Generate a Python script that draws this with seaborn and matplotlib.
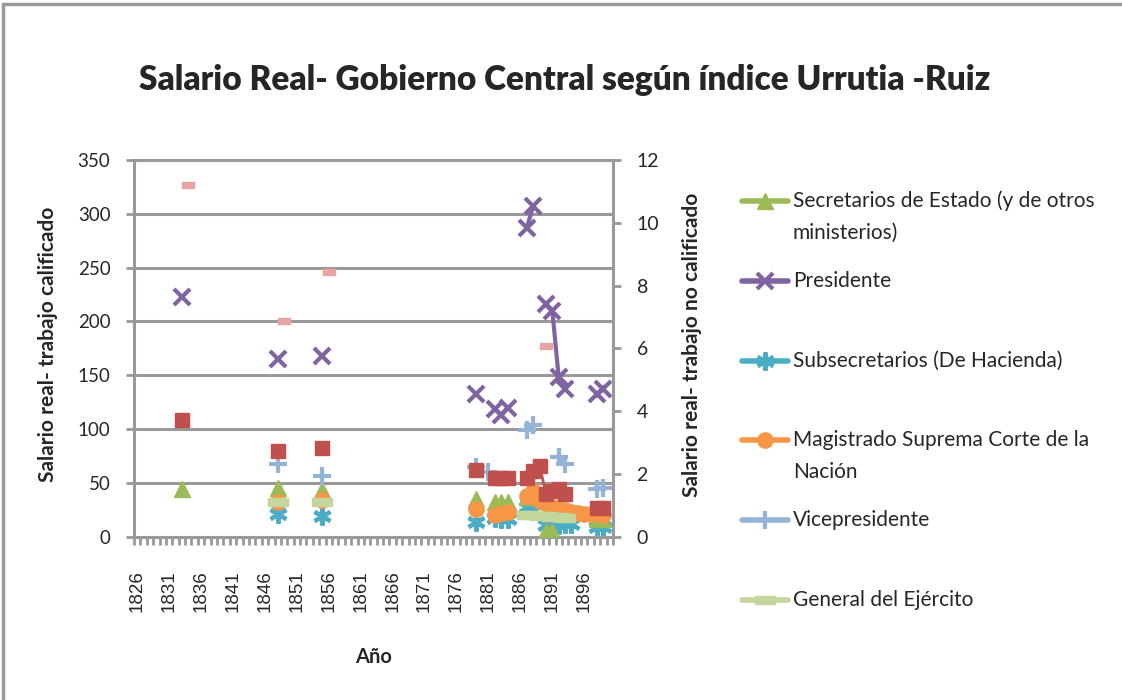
import numpy as np
import pandas as pd
import seaborn as sns
import matplotlib.pyplot as plt
from matplotlib.lines import Line2D
from matplotlib.patches import Rectangle
from matplotlib.path import Path
from matplotlib.transforms import ScaledTranslation

# category axis: one slot per year
years = list(range(1826, 1901))
label_years = years[::5]

secretarios_years = [1833, 1848, 1855, 1879, 1882, 1883, 1884, 1887, 1890, 1891, 1898, 1899]
secretarios_vals = [44, 45, 43, 35, 32, 32, 32, 37, 5, 5, 16, 16]

presidente_years = [1833, 1848, 1855, 1879, 1882, 1883, 1884, 1887, 1888, 1890, 1891, 1892, 1893, 1898, 1899]
presidente_vals = [223, 165, 168, 133, 119, 113, 120, 287, 307, 216, 210, 148, 137, 133, 137]

subsec_years = [1848, 1855, 1879, 1882, 1883, 1884, 1887, 1888, 1890, 1891, 1892, 1893, 1894, 1898, 1899]
subsec_vals = [21, 19, 14, 17, 16, 16, 28, 25, 11, 11, 11, 12, 12, 9, 9]

magistrado_years = [1848, 1855, 1879, 1882, 1883, 1884, 1887, 1888, 1889, 1890, 1891, 1892,
                    1893, 1894, 1895, 1896, 1897, 1898, 1899]
magistrado_vals = [32, 34, 26, 20, 22, 23, 38, 42, 33, 30, 28, 27, 25, 23, 22, 21, 21, 22, 20]

vice_years = [1848, 1855, 1879, 1881, 1887, 1888, 1892, 1893, 1898, 1899]
vice_vals = [68, 56, 65, 60, 99, 104, 74, 68, 44, 45]

general_years = [1848, 1855, 1887, 1888, 1889, 1890, 1891, 1892, 1893]
general_vals = [32, 32, 20, 20, 19, 19, 18, 18, 17]

# series drawn without legend entry
red_years = [1833, 1848, 1855, 1879, 1882, 1883, 1884, 1887, 1888, 1889, 1890, 1891, 1892, 1893, 1898, 1899]
red_vals = [108, 80, 82, 62, 55, 55, 55, 55, 61, 66, 40, 42, 44, 40, 27, 27]

pink_years = [1834, 1849, 1856, 1890]
pink_vals = [327, 200, 246, 177]

title = 'Salario Real- Gobierno Central según índice Urrutia -Ruiz'
left_label = 'Salario real- trabajo calificado'
right_label = 'Salario real- trabajo no calificado'

GRAY = '#999999'

dash = Path([(-1, -0.42), (1, -0.42), (1, 0.42), (-1, 0.42), (-1, -0.42)],
            [Path.MOVETO, Path.LINETO, Path.LINETO, Path.LINETO, Path.CLOSEPOLY])
star = (6, 2, 0)

styles = {
    'Secretarios de Estado (y de otros\nministerios)': dict(y=secretarios_years, v=secretarios_vals, color='#9BBB59', marker='^', ms=12, mew=1, z=3),
    'Presidente': dict(y=presidente_years, v=presidente_vals, color='#8064A2', marker='x', ms=12, mew=3, z=8),
    'Subsecretarios (De Hacienda)': dict(y=subsec_years, v=subsec_vals, color='#4BACC6', marker=star, ms=13, mew=3, z=2),
    'Magistrado Suprema Corte de la\nNación': dict(y=magistrado_years, v=magistrado_vals, color='#F79646', marker='o', ms=11, mew=1, z=4),
    'Vicepresidente': dict(y=vice_years, v=vice_vals, color='#95B3D7', marker='+', ms=13, mew=3, z=5),
    'General del Ejército': dict(y=general_years, v=general_vals, color='#C3D69B', marker=dash, ms=14, mew=1, z=4.5),
}
extra = [
    dict(y=red_years, v=red_vals, color='#C0504D', marker='s', ms=10, mew=1, z=6, lw=2),
    dict(y=pink_years, v=pink_vals, color='#E6A5A3', marker=dash, ms=9, mew=1, z=7),
]

sns.set_theme(style='white')
plt.rcParams['font.family'] = ['Lato', 'DejaVu Sans']

fig = plt.figure(figsize=(11.22, 7), dpi=100)
ax = fig.add_axes([134 / 1122, 1 - 536.7 / 700, 479 / 1122, 376.7 / 700])


def draw(s):
    df = pd.DataFrame({'year': s['y'], 'value': s['v']})
    df['seg'] = (df['year'].diff() != 1).cumsum()
    sns.lineplot(data=df, x='year', y='value', units='seg', estimator=None, ax=ax,
                 color=s['color'], lw=s.get('lw', 3), marker=s['marker'], ms=s['ms'],
                 mew=s['mew'], mec=s['color'], mfc=s['color'], legend=False, zorder=s['z'])


for s in list(styles.values()) + extra:
    draw(s)

ax.set_xlim(years[0] - 0.5, years[-1] + 0.5)
ax.set_ylim(0, 350)
ax.set_yticks(np.arange(0, 351, 50))
ax.set_xticks(label_years)
ax.set_xticklabels([str(y) for y in label_years], rotation=90, fontsize=13.5, family='Liberation Sans')
shift = ScaledTranslation(4 / 100, 0, fig.dpi_scale_trans)
for lbl in ax.get_xticklabels():
    lbl.set_transform(lbl.get_transform() + shift)
ax.set_xticks(np.arange(years[0] - 0.5, years[-1] + 1), minor=True)
ax.tick_params(axis='x', which='major', bottom=True, length=0, pad=24)
ax.tick_params(axis='x', which='minor', bottom=True, length=6, width=2, color=GRAY, direction='out')
ax.tick_params(axis='y', left=True, length=6, width=2, color=GRAY, direction='out', pad=11, labelsize=13.5)
ax.yaxis.grid(True, color=GRAY, lw=2.2)
ax.set_axisbelow(True)
for side in ['left', 'bottom', 'top']:
    ax.spines[side].set_color(GRAY)
    ax.spines[side].set_linewidth(2.2)
ax.spines['right'].set_visible(False)
ax.set_xlabel('Año', fontsize=14.5, fontweight='bold')
ax.xaxis.set_label_coords(0.5, -(657 - 536.7) / 376.7)
ax.xaxis.label.set_va('center')
ax.set_ylabel(left_label, fontsize=15, fontweight='bold')
ax.yaxis.set_label_coords((48 - 134) / 479, 0.51)
ax.yaxis.label.set_va('center')

ax2 = ax.twinx()
ax2.set_ylim(0, 12)
ax2.set_yticks(range(0, 13, 2))
ax2.tick_params(axis='y', right=True, length=6, width=2, color=GRAY, direction='out', pad=11, labelsize=14)
for side in ['left', 'bottom', 'top']:
    ax2.spines[side].set_visible(False)
ax2.spines['right'].set_color(GRAY)
ax2.spines['right'].set_linewidth(2.2)
ax2.set_ylabel(right_label, fontsize=15, fontweight='bold')
ax2.yaxis.set_label_coords((692 - 134) / 479, 0.51)
ax2.yaxis.label.set_va('center')

fig.text(0.503, 1 - 80 / 700, title, ha='center', va='center', fontsize=24, fontweight='heavy')

# legend, laid out like the spreadsheet one
leg_y = [201, 281, 361, 440, 520, 600]
for (label, s), yp in zip(styles.items(), leg_y):
    yf = 1 - yp / 700
    fig.add_artist(Line2D([742 / 1122, 788 / 1122], [yf, yf], transform=fig.transFigure,
                          color=s['color'], lw=4))
    fig.add_artist(Line2D([765 / 1122], [yf], transform=fig.transFigure, color=s['color'],
                          marker=s['marker'], ms=s['ms'], mew=s['mew'], mec=s['color'], mfc=s['color']))
    fig.text(793 / 1122, yf, label.split('\n')[0], ha='left', va='center', fontsize=15)
    if '\n' in label:
        fig.text(793 / 1122, 1 - (yp + 32) / 700, label.split('\n')[1], ha='left', va='center', fontsize=15)

fig.add_artist(Rectangle((3 / 1122, -0.1), 1.2, 1.1 - 4 / 700, transform=fig.transFigure,
                         fill=False, edgecolor=GRAY, lw=2.5))

fig.savefig('out.png', dpi=100)
